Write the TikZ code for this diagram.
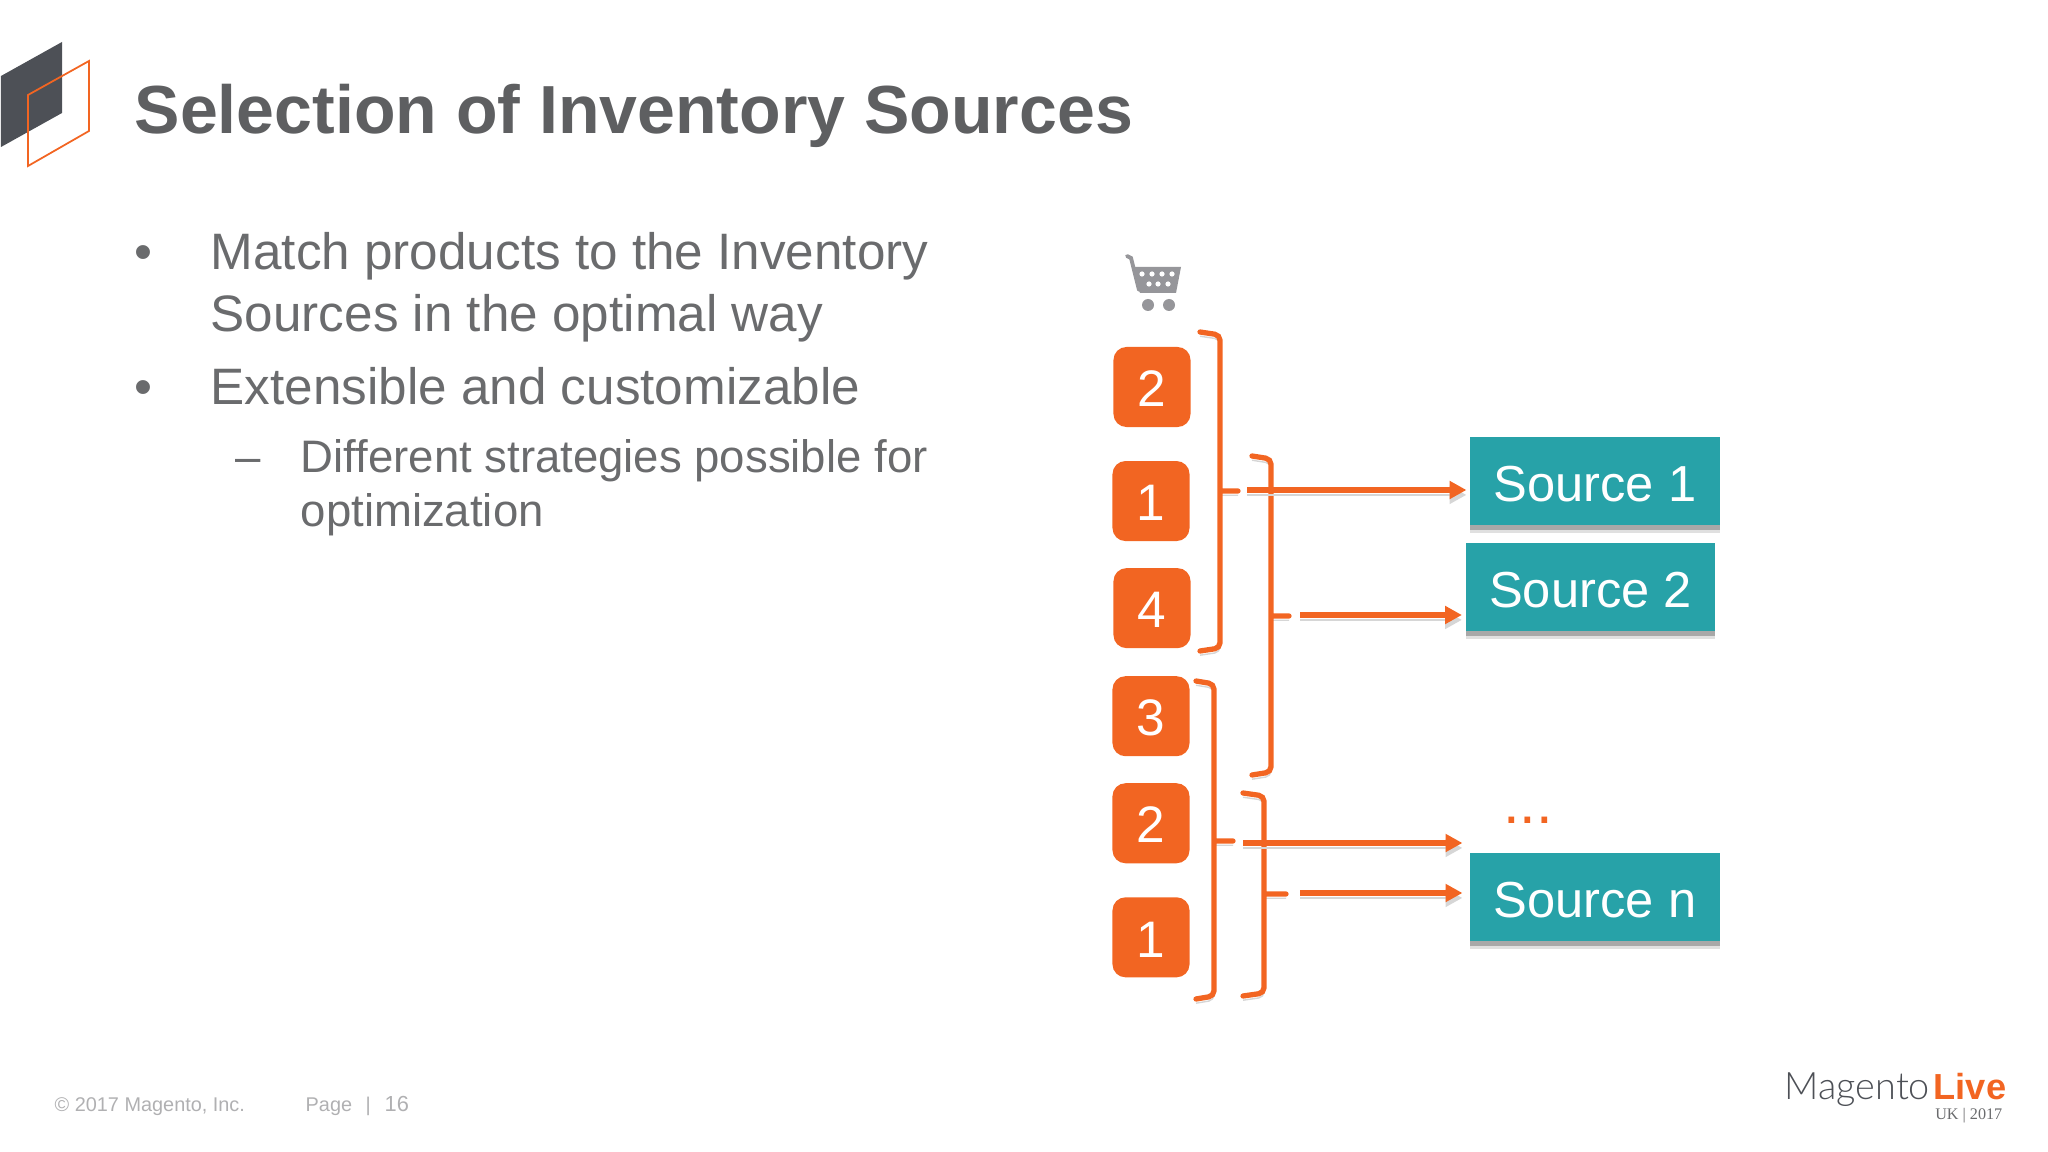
\documentclass[tikz,border=0pt]{standalone}
\usepackage{fontspec}
\setmainfont{Liberation Sans}
\newfontfamily\logofont{Lato Light}
\newfontfamily\ukfont{Liberation Serif}
\usetikzlibrary{arrows.meta,positioning,shadows}
\definecolor{colOrange}{RGB}{242,101,34}
\definecolor{colTeal}{RGB}{39,162,168}
\definecolor{colTitre}{RGB}{94,95,97}
\definecolor{colTexte}{RGB}{106,107,109}
\definecolor{colPied}{RGB}{176,176,178}
\definecolor{colCube}{RGB}{77,80,86}
\definecolor{colCart}{RGB}{150,150,154}
\definecolor{colOmbre}{RGB}{214,214,214}

\begin{document}
\begin{tikzpicture}[x=0.01cm, y=-0.01cm,
    num/.style={rectangle, rounded corners=0.13cm, fill=colOrange, text=white,
      minimum width=0.77cm, minimum height=0.8cm, inner sep=0pt, outer sep=0pt,
      text height=11.2pt, text depth=0pt,
      font=\fontsize{14.6}{16}\selectfont},
    src/.style={rectangle, fill=colTeal, text=white, minimum width=2.49cm,
      minimum height=0.88cm, inner sep=0pt, outer sep=0pt,
      text height=11.7pt, text depth=0pt,
      font=\fontsize{14.4}{16}\selectfont,
      general shadow={fill=black, opacity=0.12, shadow xshift=0pt, shadow yshift=-2.3pt},
      general shadow={fill=black, opacity=0.25, shadow xshift=0pt, shadow yshift=-1.3pt}},
    brk/.style={line width=1.5pt, colOrange, rounded corners=1.5pt, line cap=round,
      preaction={draw=colOmbre, transform canvas={yshift=-1.2pt}}},
    fl/.style={-{Triangle[length=4.8pt, width=4.9pt]}, line width=1.6pt, colOrange,
      preaction={draw=colOmbre, transform canvas={yshift=-1.4pt}}},
    ttl/.style={anchor=base west, inner sep=0pt, text=colTitre,
      font=\fontsize{19.35}{22}\selectfont\bfseries},
    bul/.style={anchor=base west, inner sep=0pt, text=colTexte,
      font=\fontsize{14.57}{16}\selectfont},
    sub/.style={anchor=base west, inner sep=0pt, text=colTexte,
      font=\fontsize{12.95}{15}\selectfont},
    pied/.style={anchor=base west, inner sep=0pt, text=colPied,
      font=\fontsize{5.65}{7}\selectfont}]
    \useasboundingbox (0,0) rectangle (2048,1152);
    \fill[colCube] (1,76)--(62,42)--(62,113)--(1,147)--cycle;
    \draw[colOrange, line width=0.5pt] (28,95)--(89,61)--(89,131)--(28,166)--cycle;
    \node[ttl] (titre) at (134,134) {Selection of Inventory Sources};
    \node[bul] (b1) at (134,270) {•};
    \node[bul] (t1) at (210,270) {Match products to the Inventory};
    \node[bul] (t1b) at (210,332) {Sources in the optimal way};
    \node[bul] (b2) at (134,405) {•};
    \node[bul] (t2) at (210,405) {Extensible and customizable};
    \node[sub] (b3) at (235,472) {–};
    \node[sub] (t3) at (300,472) {Different strategies possible for};
    \node[sub] (t3b) at (300,527) {optimization};
    \node[pied] (copy) at (54,1111) {© 2017 Magento, Inc.};
    \node[pied] (page) at (305,1111) {Page};
    \node[pied] (barre) at (365,1111) {|};
    \node[pied, font=\fontsize{6.2}{7}\selectfont] (numpage) at (384,1111) {16};
    \node[anchor=base west, inner sep=0pt, text=colCube,
      font=\fontsize{10.75}{13}\selectfont\logofont] (mag) at (1784,1099) {Magento};
    \node[anchor=base west, inner sep=0pt, text=colOrange,
      font=\fontsize{10.3}{13}\selectfont\bfseries] (live) at (1933,1099) {Live};
    \node[anchor=base east, inner sep=0pt, text=colTexte,
      font=\fontsize{4.6}{6}\selectfont\ukfont] (uk) at (2003,1119) {UK | 2017};
    \fill[colCart] (1133,267)--(1181,267)--(1176,293)--(1140,293)--cycle;
    \draw[colCart, line width=1.1pt, line cap=round] (1127,256)--(1131,258)--(1139,290);
    \fill[colCart] (1148,305) circle (6) (1169,305) circle (6);
    \foreach \xp in {1142,1152,1162,1172} \fill[white] (\xp,274) circle (2.6);
    \foreach \xp in {1149,1158,1168} \fill[white] (\xp,284) circle (2.6);
    \node[num] (n2) at (1152,387) {2};
    \node[num, below=0.34cm of n2, xshift=-0.01cm] (n1) {1};
    \node[num, below=0.27cm of n1, xshift=0.01cm] (n4) {4};
    \node[num, below=0.28cm of n4, xshift=-0.01cm] (n3) {3};
    \node[num, below=0.27cm of n3] (n2b) {2};
    \node[num, below=0.34cm of n2b] (n1b) {1};
    \node[src] (src1) at (1595,481) {Source 1};
    \node[src, below=0.18cm of src1, xshift=-0.045cm] (src2) {Source 2};
    \node[src] (srcn) at (1595,897) {Source n};
    \node[text=colOrange, font=\fontsize{17}{19}\selectfont, inner sep=0pt,
      above=0.29cm of srcn, xshift=-0.67cm] (dots) {...};
    \draw[brk] (1200,332)--(1220,335)--(1220,648)--(1200,651) (1220,491)--(1238,491);
    \draw[brk] (1252,456)--(1271,459)--(1271,772)--(1252,775) (1271,616)--(1289,616);
    \draw[brk] (1196,681)--(1214,684)--(1214,996)--(1196,999) (1214,841)--(1233,841);
    \draw[brk] (1243,793)--(1264,796)--(1264,993)--(1243,996) (1264,894)--(1286,894);
    \coordinate (d1) at (1247,490);
    \coordinate (d2) at (1300,615);
    \coordinate (d3) at (1243,843);
    \coordinate (d4) at (1300,893);
    \draw[fl, shorten >=0.04cm] (d1)--(d1 -| src1.west);
    \draw[fl, shorten >=0.04cm] (d2)--(d2 -| src2.west);
    \draw[fl, shorten >=0.08cm] (d3)--(d3 -| srcn.west);
    \draw[fl, shorten >=0.08cm] (d4)--(d4 -| srcn.west);
\end{tikzpicture}
\end{document}
